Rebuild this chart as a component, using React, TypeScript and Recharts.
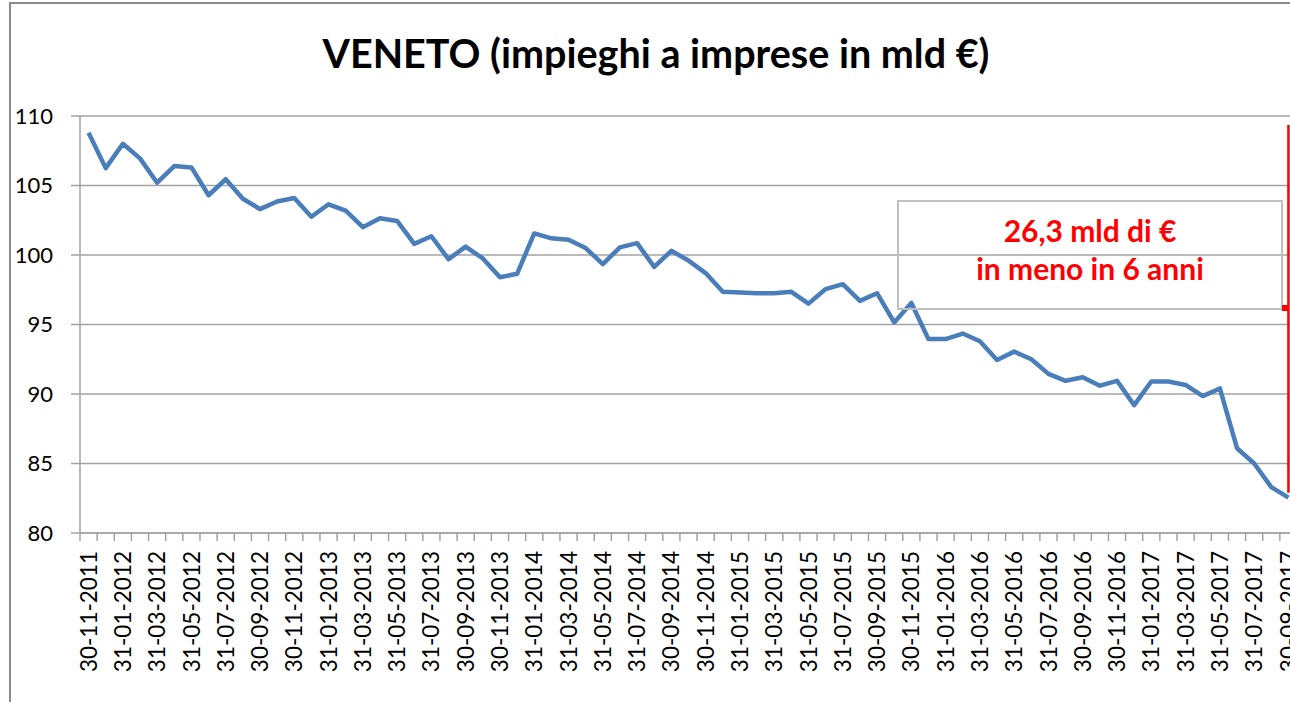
/** Veneto business loans (bn €), monthly, Nov 2011 - Sep 2017 */

import { CartesianGrid, Line, LineChart, ReferenceLine, XAxis, YAxis } from "recharts";

const months: string[] = [
	"30-11-2011", "31-12-2011",
	"31-01-2012", "29-02-2012", "31-03-2012", "30-04-2012", "31-05-2012", "30-06-2012",
	"31-07-2012", "31-08-2012", "30-09-2012", "31-10-2012", "30-11-2012", "31-12-2012",
	"31-01-2013", "28-02-2013", "31-03-2013", "30-04-2013", "31-05-2013", "30-06-2013",
	"31-07-2013", "31-08-2013", "30-09-2013", "31-10-2013", "30-11-2013", "31-12-2013",
	"31-01-2014", "28-02-2014", "31-03-2014", "30-04-2014", "31-05-2014", "30-06-2014",
	"31-07-2014", "31-08-2014", "30-09-2014", "31-10-2014", "30-11-2014", "31-12-2014",
	"31-01-2015", "28-02-2015", "31-03-2015", "30-04-2015", "31-05-2015", "30-06-2015",
	"31-07-2015", "31-08-2015", "30-09-2015", "31-10-2015", "30-11-2015", "31-12-2015",
	"31-01-2016", "29-02-2016", "31-03-2016", "30-04-2016", "31-05-2016", "30-06-2016",
	"31-07-2016", "31-08-2016", "30-09-2016", "31-10-2016", "30-11-2016", "31-12-2016",
	"31-01-2017", "28-02-2017", "31-03-2017", "30-04-2017", "31-05-2017", "30-06-2017",
	"31-07-2017", "31-08-2017", "30-09-2017",
];

const loans: number[] = [
	108.8, 106.25,
	108.0, 106.95, 105.2, 106.4, 106.3, 104.3, 105.45, 104.05, 103.3, 103.85, 104.1, 102.75,
	103.65, 103.2, 102.0, 102.65, 102.45, 100.8, 101.35, 99.7, 100.6, 99.75, 98.4, 98.65,
	101.55, 101.2, 101.1, 100.5, 99.35, 100.55, 100.85, 99.15, 100.3, 99.6, 98.7, 97.35,
	97.3, 97.25, 97.25, 97.35, 96.5, 97.55, 97.9, 96.7, 97.25, 95.15, 96.55, 93.95,
	93.95, 94.35, 93.8, 92.45, 93.05, 92.5, 91.45, 90.95, 91.2, 90.6, 90.95, 89.2,
	90.9, 90.9, 90.65, 89.85, 90.4, 86.1, 85.0, 83.3, 82.55,
];

const yTicks: number[] = [80, 85, 90, 95, 100, 105, 110];

// arrow showing the total drop, from just above the first value to the last one
const dropTop = 109.35;
const dropBottom = 82.9;

const CHART_W = 1300;
const CHART_H = 700;
const MARGIN = { top: 116, right: 3, bottom: 0, left: 0 };
const Y_AXIS_W = 80;
const BAND = (CHART_W - MARGIN.left - MARGIN.right - Y_AXIS_W) / months.length;
const GREY = "#a3a3a3";
const FONT = "Lato, 'Open Sans', sans-serif";

const chartData = months.map((m, i) => ({ month: m, value: loans[i] }));

function DateTick(props: any) {
	const { x, y, payload, index } = props;
	const half = BAND / 2;
	const isLast = index === months.length - 1;
	return (
		<g>
			<line x1={x - half} y1={y} x2={x - half} y2={y + 8} stroke={GREY} strokeWidth={1.5} />
			{isLast && (
				<line x1={x + half} y1={y} x2={x + half} y2={y + 8} stroke={GREY} strokeWidth={1.5} />
			)}
			{index % 2 === 0 && (
				<text
					x={x}
					y={y + 18}
					dy="0.36em"
					textAnchor="end"
					transform={`rotate(-90, ${x}, ${y + 18})`}
					fill="#000"
					fontSize={22.5}
					fontFamily={FONT}
				>
					{payload.value}
				</text>
			)}
		</g>
	);
}

export default function App(): React.ReactElement {
	return (
		<div
			style={{
				position: "fixed",
				left: 0,
				top: 0,
				width: 1290,
				height: 702,
				overflow: "hidden",
				background: "#fff",
			}}
		>
			<div
				style={{
					position: "absolute",
					left: 9,
					top: 2,
					width: 1400,
					height: 800,
					borderLeft: "2px solid #8a8a8a",
					borderTop: "2px solid #8a8a8a",
				}}
			/>
			<div
				style={{
					position: "absolute",
					left: 0,
					top: 29,
					width: 1312,
					textAlign: "center",
					fontFamily: FONT,
					fontWeight: 700,
					fontSize: 39.5,
					lineHeight: "48px",
					color: "#000",
				}}
			>
				VENETO (impieghi a imprese in mld €)
			</div>
			<div style={{ position: "absolute", left: 0, top: 0 }}>
				<LineChart width={CHART_W} height={CHART_H} data={chartData} margin={MARGIN}>
					<CartesianGrid vertical={false} stroke={GREY} strokeWidth={1.5} />
					<XAxis
						dataKey="month"
						scale="band"
						interval={0}
						height={CHART_H - MARGIN.top - 417}
						tickSize={0}
						tickMargin={0}
						tickLine={false}
						axisLine={{ stroke: GREY, strokeWidth: 1.5 }}
						tick={<DateTick />}
					/>
					<YAxis
						domain={[80, 110]}
						ticks={yTicks}
						width={Y_AXIS_W}
						tickSize={9}
						tickMargin={18}
						tickLine={{ stroke: GREY, strokeWidth: 1.5 }}
						axisLine={{ stroke: GREY, strokeWidth: 1.5 }}
						tick={{ fill: "#000", fontSize: 22, fontFamily: FONT }}
					/>
					<Line
						type="linear"
						dataKey="value"
						stroke="#4a7ebb"
						strokeWidth={4.5}
						strokeLinejoin="round"
						dot={false}
						isAnimationActive={false}
					/>
					<ReferenceLine
						segment={[
							{ x: months[months.length - 1], y: dropTop },
							{ x: months[months.length - 1], y: dropBottom },
						]}
						stroke="#ff0000"
						strokeWidth={2.5}
					/>
				</LineChart>
			</div>
			<div
				style={{
					position: "absolute",
					left: 897,
					top: 200,
					width: 386,
					height: 110,
					boxSizing: "border-box",
					border: "2px solid #bfbfbf",
				}}
			/>
			<div
				style={{
					position: "absolute",
					left: 1282,
					top: 305,
					width: 7,
					height: 6,
					background: "#ff0000",
				}}
			/>
			<div
				style={{
					position: "absolute",
					left: 897,
					top: 211,
					width: 386,
					textAlign: "center",
					color: "#ff0000",
					fontFamily: FONT,
					fontWeight: 700,
					fontSize: 30,
					lineHeight: "38px",
				}}
			>
				26,3 mld di €
				<br />
				in meno in 6 anni
			</div>
		</div>
	);
}
